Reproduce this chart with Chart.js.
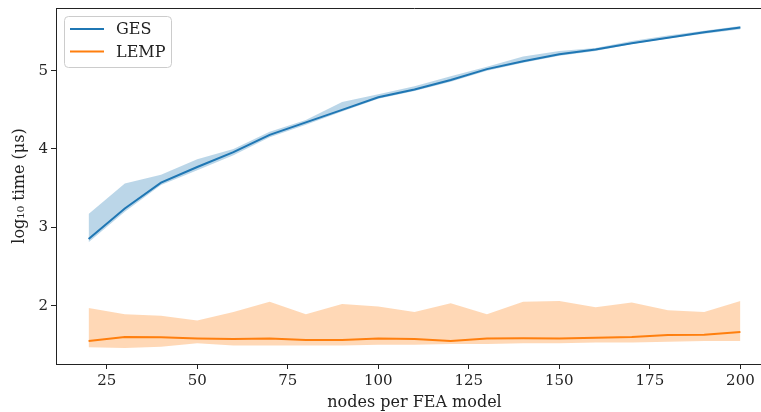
<!DOCTYPE html>
<html>
<head>
<meta charset="utf-8">
<script src="https://cdn.jsdelivr.net/npm/chart.js@4.4.1/dist/chart.umd.min.js"></script>
<style>
  html, body { margin: 0; padding: 0; background: #fff; overflow: hidden; }
  #wrap { width: 761px; height: 412px; overflow: hidden; }
  canvas { display: block; }
</style>
</head>
<body>
<div id="wrap"><canvas id="chart" width="790" height="412"></canvas></div>
<script>
// nodes per FEA model
const nodes = [20, 30, 40, 50, 60, 70, 80, 90, 100, 110, 120, 130, 140, 150, 160, 170, 180, 190, 200];

// log10 time (µs), mean and band edges
const gesMean  = [2.85, 3.24, 3.57, 3.77, 3.96, 4.18, 4.34, 4.50, 4.66, 4.76, 4.88, 5.02, 5.12, 5.21, 5.27, 5.35, 5.42, 5.49, 5.55];
const gesUpper = [3.17, 3.56, 3.67, 3.87, 4.00, 4.22, 4.37, 4.60, 4.70, 4.80, 4.93, 5.05, 5.18, 5.25, 5.29, 5.38, 5.45, 5.51, 5.57];
const gesLower = [2.81, 3.20, 3.54, 3.73, 3.92, 4.15, 4.31, 4.48, 4.64, 4.74, 4.86, 5.00, 5.10, 5.19, 5.25, 5.34, 5.41, 5.47, 5.53];

const lempMean  = [1.55, 1.60, 1.595, 1.58, 1.575, 1.58, 1.56, 1.56, 1.58, 1.575, 1.55, 1.58, 1.585, 1.58, 1.59, 1.60, 1.625, 1.63, 1.665];
const lempUpper = [1.97, 1.89, 1.87, 1.81, 1.92, 2.05, 1.89, 2.02, 1.99, 1.92, 2.03, 1.89, 2.05, 2.06, 1.98, 2.04, 1.94, 1.92, 2.06];
const lempLower = [1.47, 1.46, 1.475, 1.52, 1.49, 1.49, 1.49, 1.49, 1.50, 1.50, 1.51, 1.51, 1.52, 1.52, 1.53, 1.53, 1.54, 1.55, 1.55];

const xTicks = [25, 50, 75, 100, 125, 150, 175, 200];
const yTicks = [2, 3, 4, 5];

const BLUE = "#1f77b4";
const ORANGE = "#ff7f0e";
const FONT = "'DejaVu Serif', serif";

const points = (values) => values.map((y, i) => ({ x: nodes[i], y }));

function line(label, values, color) {
  return { label, data: points(values), borderColor: color, backgroundColor: color, borderWidth: 2, pointRadius: 0, fill: false, order: 0, tension: 0 };
}

function band(values, fillColor, fill) {
  return { label: "", band: true, data: points(values), borderWidth: 0, borderColor: "transparent", backgroundColor: fillColor, pointRadius: 0, fill, order: 1, tension: 0 };
}

// legend box and the top spine, drawn like matplotlib
const frame = {
  id: "frame",
  afterDatasetsDraw(chart) {
    const { ctx, chartArea: a } = chart;
    ctx.save();
    ctx.strokeStyle = "#222";
    ctx.lineWidth = 1;
    ctx.beginPath();
    ctx.moveTo(a.left, a.top + 0.5);
    ctx.lineTo(a.right, a.top + 0.5);
    ctx.stroke();

    const entries = chart.data.datasets.filter((d) => !d.band);
    const x = 64.5, y = 16.5, w = 107, h = 51, r = 4;
    ctx.beginPath();
    ctx.roundRect(x, y, w, h, r);
    ctx.fillStyle = "rgba(255,255,255,0.8)";
    ctx.fill();
    ctx.strokeStyle = "#cccccc";
    ctx.stroke();
    ctx.font = "16px " + FONT;
    ctx.textBaseline = "middle";
    entries.forEach((d, i) => {
      const ly = 29 + i * 22.5;
      ctx.beginPath();
      ctx.moveTo(70, ly);
      ctx.lineTo(104, ly);
      ctx.strokeStyle = d.borderColor;
      ctx.lineWidth = 2;
      ctx.stroke();
      ctx.fillStyle = "#222";
      ctx.fillText(d.label, 116, ly + 1);
    });
    ctx.restore();
  }
};

new Chart(document.getElementById("chart"), {
  type: "line",
  data: {
    datasets: [
      line("GES", gesMean, BLUE),
      line("LEMP", lempMean, ORANGE),
      band(gesUpper, "rgba(31,119,180,0.3)", "+1"),
      band(gesLower, "rgba(31,119,180,0.3)", false),
      band(lempUpper, "rgba(255,127,14,0.3)", "+1"),
      band(lempLower, "rgba(255,127,14,0.3)", false)
    ]
  },
  options: {
    responsive: false,
    animation: false,
    layout: { padding: { top: 8, right: 17, left: 0, bottom: 0 } },
    plugins: { legend: { display: false }, tooltip: { enabled: false } },
    scales: {
      x: {
        type: "linear",
        min: 11,
        max: 209,
        afterBuildTicks: (scale) => { scale.ticks = xTicks.map((value) => ({ value })); },
        afterFit: (scale) => { scale.height = 48; scale.paddingLeft = 0; scale.paddingRight = 0; },
        grid: { drawOnChartArea: false, drawTicks: true, tickLength: 5, color: "#222", tickWidth: 1 },
        border: { display: true, color: "#222", width: 1 },
        ticks: { color: "#222", padding: 3, maxRotation: 0, font: { size: 15, family: FONT } },
        title: { display: true, text: "nodes per FEA model", color: "#222", padding: { top: 0, bottom: 0 }, font: { size: 16, family: FONT } }
      },
      y: {
        min: 1.255,
        max: 5.8,
        afterBuildTicks: (scale) => { scale.ticks = yTicks.map((value) => ({ value })); },
        afterFit: (scale) => { scale.width = 56; scale.paddingTop = 0; scale.paddingBottom = 0; },
        grid: { drawOnChartArea: false, drawTicks: true, tickLength: 5, color: "#222", tickWidth: 1 },
        border: { display: true, color: "#222", width: 1 },
        ticks: { color: "#222", padding: 3, font: { size: 15, family: FONT } },
        title: { display: true, text: "log\u2081\u2080 time (\u03bcs)", color: "#222", padding: { top: 10, bottom: 0 }, font: { size: 16, family: FONT } }
      }
    }
  },
  plugins: [frame]
});
</script>
</body>
</html>
